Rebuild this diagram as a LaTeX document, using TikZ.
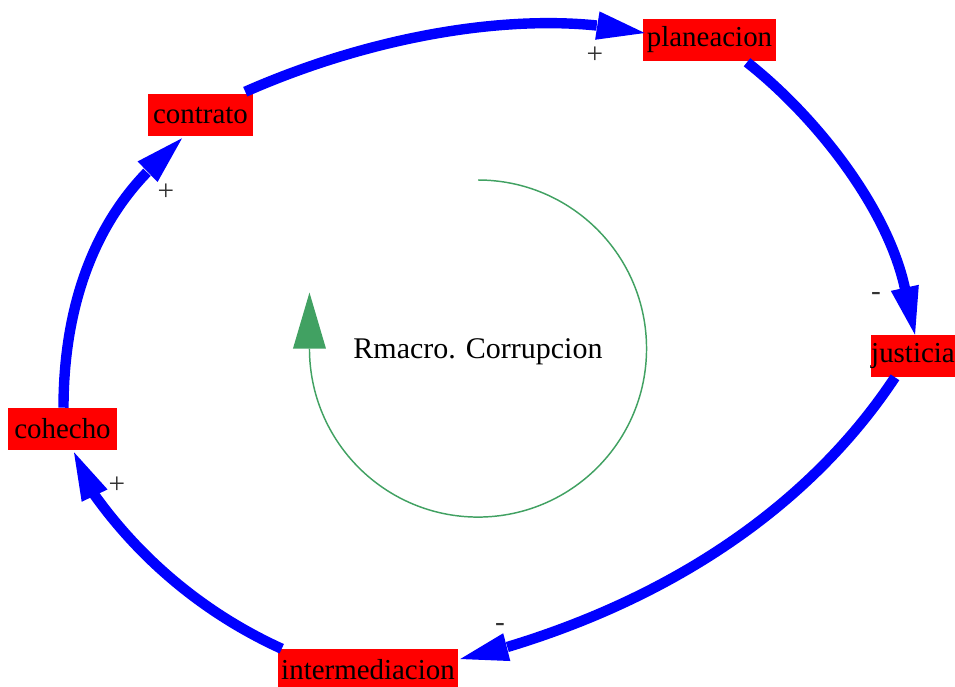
\documentclass[tikz,border=0pt]{standalone}
\usepackage{fontspec}
\setmainfont{Liberation Serif}
\usetikzlibrary{arrows.meta,calc}
\definecolor{loopgreen}{RGB}{65,161,98}
\begin{document}
\begin{tikzpicture}[x=0.75pt,y=-0.75pt,
  var/.style={fill=red, inner sep=0pt, minimum height=31.5pt,
    font=\fontsize{21.7}{26}\selectfont, text=black},
  link/.style={draw=blue, line width=7.8pt},
  linktip/.style={draw=blue, line width=0.2pt,
    -{Triangle[length=36pt,width=21.5pt,line width=0pt]}},
  pol/.style={font=\fontsize{22}{26}\selectfont, text=black!80, inner sep=0pt},
  loopline/.style={draw=loopgreen, line width=1.1pt}]
\useasboundingbox (0,0) rectangle (955,686);

% variables
\node[var, minimum width=99.75pt] (plan) at (709.5,40) {planeacion};
\node[var, minimum width=78.75pt] (contr) at (200.5,115) {contrato};
\node[var, minimum width=63pt] (just) at (913,356) {justicia};
\node[var, minimum width=81.75pt] (coh) at (62.5,429) {cohecho};
\node[var, minimum width=135pt] (inter) at (368,670) {intermediacion};

% arrow bases (where each line meets its arrowhead)
\coordinate (b1) at ($(plan.west)+(-46,-14.5)$);
\coordinate (b2) at ($(just.north)+(-8,-46)$);
\coordinate (b3) at ($(inter.east)+(49,-23)$);
\coordinate (b4) at ($(coh.south)+(31.5,44)$);
\coordinate (b5) at ($(contr.south)+(-53.5,36)$);

% links
\draw[link] ($(contr.north east)+(-8,-2)$) .. controls +(118,-52) and +(-102.5,-10.5) .. (b1);
\draw[linktip] (b1) -- ($(plan.west)+(2,-7)$);
\draw[link] ($(plan.south)+(37.5,1)$) .. controls +(68,53.5) and +(-17.5,-81.5) .. (b2);
\draw[linktip] (b2) -- ($(just.north)+(2,0)$);
\draw[link] ($(just.south)+(-18,0)$) .. controls +(-82,124) and +(172,-52) .. (b3);
\draw[linktip] (b3) -- ($(inter.east)+(2,-11)$);
\draw[link] ($(inter.north west)+(4,0)$) .. controls +(-75.2,-34.2) and +(48,67.2) .. (b4);
\draw[linktip] (b4) -- ($(coh.south)+(11.5,2)$);
\draw[link] ($(coh.north)+(1,0)$) .. controls +(0,-87) and +(-60.5,62.5) .. (b5);
\draw[linktip] (b5) -- ($(contr.south)+(-18.5,2)$);

% polarities
\node[pol] (s1) at (595,55) {+};
\node[pol] (s2) at (876,296) {-};
\node[pol] (s3) at (500,627) {-};
\node[pol] (s4) at (117,485) {+};
\node[pol] (s5) at (166,192) {+};

% loop symbol
\coordinate (lstart) at (478,180);
\draw[loopline] (lstart) arc[start angle=90, end angle=-180, radius=126.4pt] coordinate (lend);
\draw[loopline, -{Triangle[length=42pt,width=24.75pt,line width=0pt]}] (lend) -- ++(0,-56) coordinate (ltip);
\node[font=\fontsize{22.5}{27}\selectfont] (looplabel) at (478,352) {Rmacro. Corrupcion};
\end{tikzpicture}
\end{document}
